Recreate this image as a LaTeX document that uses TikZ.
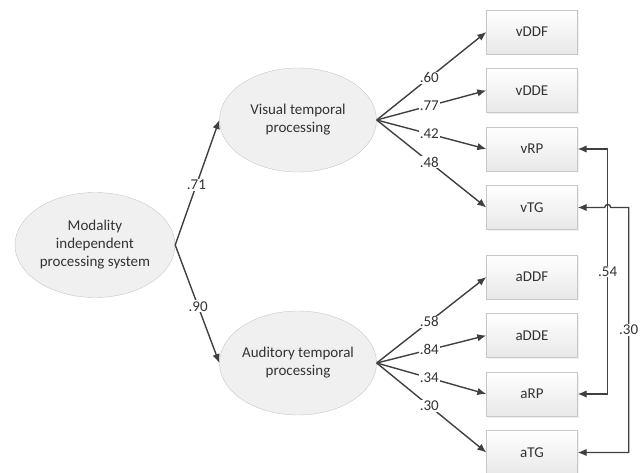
\documentclass[tikz,border=0pt]{standalone}
\usepackage{fontspec}
\setmainfont{Carlito}
\usepackage{tikz}
\usetikzlibrary{arrows.meta,positioning,shapes.geometric,shadows}

\begin{document}
\begin{tikzpicture}[x=1pt,y=1pt,
            every node/.style={text=black!80,font=\fontsize{15pt}{18pt}\selectfont},
            latent/.style={draw=black!22,fill=black!6,ellipse,minimum width=157pt,minimum height=104pt,inner xsep=-4pt,align=center},
            indicator/.style={draw=black!22,rectangle,top color=white,bottom color=black!9,minimum width=91pt,minimum height=44pt,node distance=58.5pt,
              drop shadow={opacity=.12,shadow xshift=1.5pt,shadow yshift=-1.5pt}},
            coef/.style={fill=white,inner sep=1pt},
            link/.style={draw=black!75,line width=1.4pt,->,>={Latex[length=9pt,width=7.5pt]}}
          ]
          \useasboundingbox (0,0) rectangle (643,-473);

          %latent variables
          \node[latent,minimum width=160pt,minimum height=105pt] (mod) at (95,-245) {Modality\\independent\\processing system};
          \node[latent] (vis) at (298,-120) {Visual temporal\\processing};
          \node[latent] (aud) at (298,-363) {Auditory temporal\\processing};

          %visual tasks
          \node[indicator] (vDDF) at (532,-32) {vDDF};
          \node[below of = vDDF,indicator] (vDDE) {vDDE};
          \node[below of = vDDE,indicator] (vRP) {vRP};
          \node[below of = vRP,indicator] (vTG) {vTG};

          %auditory tasks
          \node[indicator] (aDDF) at (532,-277) {aDDF};
          \node[below of = aDDF,indicator] (aDDE) {aDDE};
          \node[below of = aDDE,indicator] (aRP) {aRP};
          \node[below of = aRP,indicator] (aTG) {aTG};

          %loadings
          \path[every edge/.style=link]
          (mod.east) edge node[coef,pos=.48] {.71} (vis.west)
          (mod.east) edge node[coef,pos=.52] {.90} (aud.west)
          (vis.east) edge node[coef,pos=.48] {.60} (vDDF.west)
          (vis.east) edge node[coef,pos=.48] {.77} (vDDE.west)
          (vis.east) edge node[coef,pos=.48] {.42} (vRP.west)
          (vis.east) edge node[coef,pos=.48] {.48} (vTG.west)
          (aud.east) edge node[coef,pos=.48] {.58} (aDDF.west)
          (aud.east) edge node[coef,pos=.48] {.84} (aDDE.west)
          (aud.east) edge node[coef,pos=.48] {.34} (aRP.west)
          (aud.east) edge node[coef,pos=.48] {.30} (aTG.west)
          ;

          %correlations
          \draw[link,<->] (vRP.east) -- ++(30,0) |- node[coef,pos=.25] {.54} (aRP.east);
          \draw[link,<->] (vTG.east) -- ++(27,0) arc[start angle=180,end angle=0,radius=3] -- ++(18,0) |- node[coef,pos=.25] {.30} (aTG.east);

      \end{tikzpicture}
\end{document}
